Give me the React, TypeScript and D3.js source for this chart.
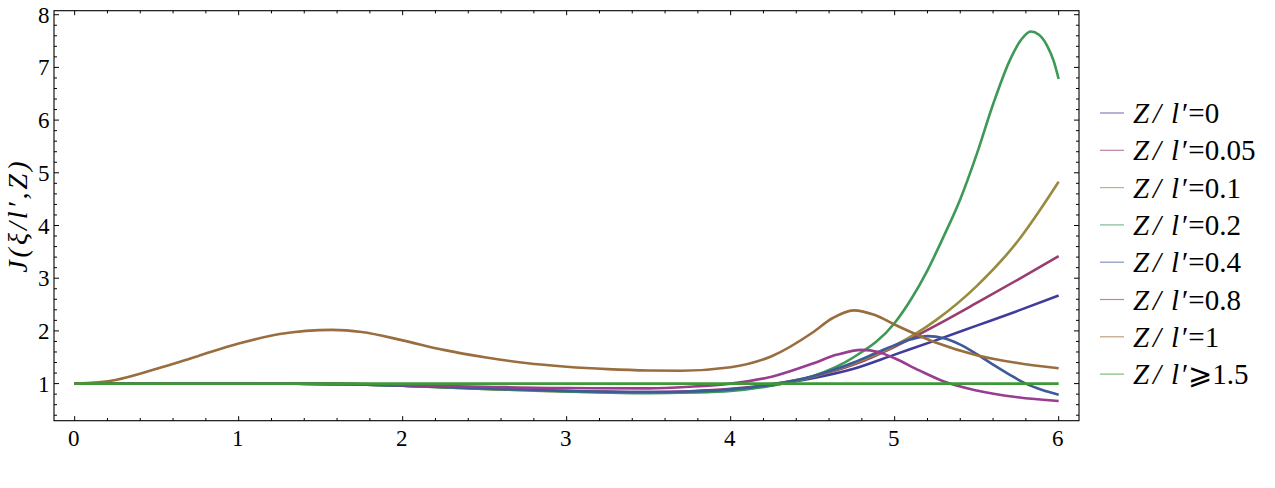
import * as d3 from "d3";

const W = 1275;
const H = 488;

// plot frame (Mathematica adds a little padding round the data)
const frame = { left: 54, right: 1079, top: 10.7, bottom: 420.7 };
const xDomain: [number, number] = [-0.126, 6.124];
const yDomain: [number, number] = [0.296, 8.076];

const xMajor = [0, 1, 2, 3, 4, 5, 6];
const yMajor = [1, 2, 3, 4, 5, 6, 7, 8];

const zValues = ["0", "0.05", "0.1", "0.2", "0.4", "0.8", "1", "1.5"];
const seriesColors = [
  "#3f3d99",
  "#993d71",
  "#998b3d",
  "#3d9956",
  "#3d5a99",
  "#993d90",
  "#996d3d",
  "#3d9936",
];

type Pt = [number, number];

const z0: Pt[] = [
  [0, 1], [1, 1], [1.5, 0.995], [1.75, 0.985], [2, 0.96], [2.5, 0.91], [3, 0.86],
  [3.5, 0.83], [3.75, 0.84], [4, 0.88], [4.25, 0.97], [4.5, 1.1], [4.75, 1.28],
  [5, 1.55], [5.25, 1.82], [5.5, 2.1], [5.75, 2.38], [6, 2.67],
];
const z005: Pt[] = [
  [0, 1], [1, 1], [1.5, 0.995], [1.75, 0.985], [2, 0.96], [2.5, 0.91], [3, 0.86],
  [3.5, 0.84], [3.75, 0.855], [4, 0.9], [4.25, 0.99], [4.5, 1.13], [4.75, 1.36],
  [5, 1.7], [5.25, 2.1], [5.5, 2.53], [5.75, 2.97], [6, 3.42],
];
const z01: Pt[] = [
  [0, 1], [1, 1], [1.5, 0.995], [1.75, 0.985], [2, 0.96], [2.5, 0.9], [3, 0.85],
  [3.5, 0.83], [3.75, 0.84], [4, 0.88], [4.25, 0.97], [4.5, 1.13], [4.75, 1.38],
  [5, 1.72], [5.25, 2.2], [5.5, 2.85], [5.75, 3.7], [6, 4.83],
];
const z02: Pt[] = [
  [0, 1], [1, 1], [1.5, 0.995], [1.75, 0.985], [2, 0.96], [2.5, 0.9], [3, 0.85],
  [3.5, 0.82], [3.75, 0.83], [4, 0.86], [4.25, 0.96], [4.5, 1.14], [4.75, 1.5],
  [5, 2.15], [5.1, 2.6], [5.2, 3.15], [5.3, 3.8], [5.4, 4.5], [5.5, 5.35],
  [5.6, 6.3], [5.7, 7.12], [5.77, 7.52], [5.83, 7.68], [5.88, 7.62], [5.93, 7.41],
  [5.97, 7.12], [6, 6.78],
];
const z04: Pt[] = [
  [0, 1], [1, 1], [1.5, 0.995], [1.75, 0.985], [2, 0.96], [2.5, 0.91], [3, 0.86],
  [3.5, 0.84], [3.75, 0.85], [4, 0.89], [4.25, 0.98], [4.5, 1.14], [4.75, 1.4],
  [4.9, 1.6], [5, 1.73], [5.1, 1.84], [5.2, 1.9], [5.3, 1.86], [5.4, 1.74],
  [5.5, 1.56], [5.6, 1.36], [5.7, 1.17], [5.8, 1.0], [5.9, 0.88], [6, 0.79],
];
const z08: Pt[] = [
  [0, 1], [1, 1], [1.5, 0.995], [1.75, 0.99], [2, 0.97], [2.5, 0.94], [3, 0.915],
  [3.5, 0.91], [3.75, 0.94], [4, 1.0], [4.25, 1.13], [4.5, 1.38], [4.65, 1.55],
  [4.8, 1.64], [4.9, 1.6], [5, 1.48], [5.15, 1.25], [5.3, 1.04], [5.5, 0.87],
  [5.75, 0.74], [6, 0.67],
];
const z1: Pt[] = [
  [0, 1], [0.25, 1.07], [0.5, 1.28], [0.75, 1.52], [1, 1.76], [1.25, 1.94],
  [1.57, 2.02], [1.75, 1.98], [2, 1.82], [2.25, 1.64], [2.5, 1.5], [2.75, 1.39],
  [3, 1.32], [3.25, 1.275], [3.5, 1.25], [3.7, 1.245], [4, 1.31], [4.25, 1.52],
  [4.5, 1.97], [4.62, 2.24], [4.75, 2.39], [4.88, 2.3], [5, 2.12], [5.25, 1.78],
  [5.5, 1.54], [5.75, 1.39], [6, 1.29],
];
const z15: Pt[] = [
  [0, 1], [6, 1],
];

const series = [z0, z005, z01, z02, z04, z08, z1, z15];

const FONT = "Liberation Serif";
const fontCss = `.mm text { font-family: "Liberation Serif", "Times New Roman", Tinos, serif !important; }`;

export default function App() {
  const x = d3.scaleLinear().domain(xDomain).range([frame.left, frame.right]);
  const y = d3.scaleLinear().domain(yDomain).range([frame.bottom, frame.top]);

  const line = d3
    .line<Pt>()
    .x((d) => x(d[0]))
    .y((d) => y(d[1]))
    .curve(d3.curveMonotoneX);

  // minor ticks every 0.2
  const xMinor = d3.range(0, 6.01, 0.2).filter((v) => Math.abs(v - Math.round(v)) > 0.01);
  const yMinor = d3.range(0.4, 8.01, 0.2).filter((v) => Math.abs(v - Math.round(v)) > 0.01);

  const legY = (i: number) => 113 + i * 37.3;
  const legX = 1100;
  const tx = legX + 33;

  return (
    <div style={{ position: "absolute", left: 0, top: 0 }}>
      <style>{fontCss}</style>
      <svg className="mm" width={W} height={H} fontFamily={FONT}>
        {/* curves */}
        <g fill="none" strokeWidth={2.6} strokeLinejoin="round" strokeLinecap="butt">
          {series.map((s, i) => (
            <path key={i} d={line(s) ?? ""} stroke={seriesColors[i]} />
          ))}
        </g>

        {/* frame */}
        <rect
          x={frame.left}
          y={frame.top}
          width={frame.right - frame.left}
          height={frame.bottom - frame.top}
          fill="none"
          stroke="#000"
          strokeWidth={1.1}
        />

        {/* ticks, pointing inward on all four sides */}
        <g stroke="#000" strokeWidth={1}>
          {xMajor.map((v) => (
            <g key={"xM" + v}>
              <line x1={x(v)} x2={x(v)} y1={frame.bottom} y2={frame.bottom - 4.5} />
              <line x1={x(v)} x2={x(v)} y1={frame.top} y2={frame.top + 4.5} />
            </g>
          ))}
          {xMinor.map((v) => (
            <g key={"xm" + v}>
              <line x1={x(v)} x2={x(v)} y1={frame.bottom} y2={frame.bottom - 2.7} />
              <line x1={x(v)} x2={x(v)} y1={frame.top} y2={frame.top + 2.7} />
            </g>
          ))}
          {yMajor.map((v) => (
            <g key={"yM" + v}>
              <line x1={frame.left} x2={frame.left + 5} y1={y(v)} y2={y(v)} />
              <line x1={frame.right} x2={frame.right - 5} y1={y(v)} y2={y(v)} />
            </g>
          ))}
          {yMinor.map((v) => (
            <g key={"ym" + v}>
              <line x1={frame.left} x2={frame.left + 3} y1={y(v)} y2={y(v)} />
              <line x1={frame.right} x2={frame.right - 3} y1={y(v)} y2={y(v)} />
            </g>
          ))}
        </g>

        {/* tick labels */}
        {xMajor.map((v) => (
          <text
            key={"xl" + v}
            x={x(v) - 1}
            y={446}
            textAnchor="middle"
            style={{ fontFamily: FONT, fontSize: 23 }}
          >
            {v}
          </text>
        ))}
        {yMajor.map((v) => (
          <text
            key={"yl" + v}
            x={49.5}
            y={y(v) + 8}
            textAnchor="end"
            style={{ fontFamily: FONT, fontSize: 23 }}
          >
            {v}
          </text>
        ))}

        {/* y axis title */}
        <text
          transform={`translate(27,${(frame.top + frame.bottom) / 2}) rotate(-90)`}
          textAnchor="middle"
          style={{ fontFamily: FONT, fontSize: 28, fontStyle: "italic", letterSpacing: 3 }}
        >
          J(ξ/l′,Z)
        </text>

        {/* legend */}
        {zValues.map((z, i) => (
          <g key={"lg" + z}>
            <line
              x1={legX}
              x2={legX + 24}
              y1={legY(i)}
              y2={legY(i)}
              stroke={seriesColors[i]}
              strokeOpacity={0.65}
              strokeWidth={1.2}
            />
            <text x={tx} y={legY(i) + 10} style={{ fontFamily: FONT, fontSize: 29, fontStyle: "italic" }}>
              Z
            </text>
            <text x={tx + 20} y={legY(i) + 10} style={{ fontFamily: FONT, fontSize: 29, fontStyle: "italic" }}>
              /
            </text>
            <text x={tx + 38} y={legY(i) + 10} style={{ fontFamily: FONT, fontSize: 29, fontStyle: "italic" }}>
              l
            </text>
            <text x={tx + 49} y={legY(i) + 10} style={{ fontFamily: FONT, fontSize: 29 }}>
              {"′" + (i === zValues.length - 1 ? "⩾" : "=") + z}
            </text>
          </g>
        ))}
      </svg>
    </div>
  );
}
